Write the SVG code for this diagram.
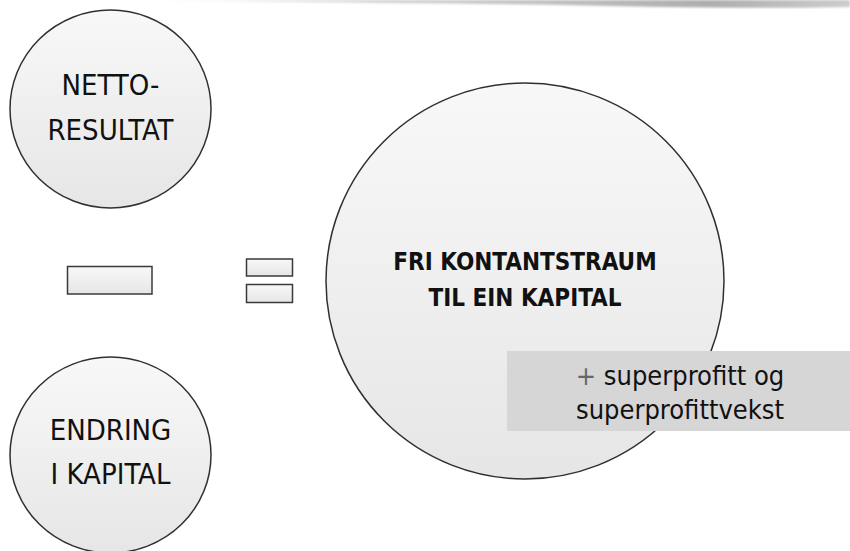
<svg xmlns="http://www.w3.org/2000/svg" width="850" height="551" viewBox="0 0 850 551">
  <style>
    .node { stroke: #303030; stroke-width: 1.5; fill: url(#g); }
    .lbl { font-family: "DejaVu Sans", "Liberation Sans", sans-serif; font-stretch: condensed; fill: #111; text-anchor: middle; }
    .big { font-size: 29px; }
    .bold { font-size: 24px; font-weight: bold; }
    .note { font-size: 27px; }
    .op { stroke: #3a3a3a; stroke-width: 1.5; fill: url(#g); }
  </style>
  <defs>
    <linearGradient id="g" x1="0" y1="0" x2="0" y2="1">
      <stop offset="0" stop-color="#f8f8f8"/>
      <stop offset="1" stop-color="#e6e6e6"/>
    </linearGradient>
    <linearGradient id="brush" x1="0" y1="0" x2="1" y2="0">
      <stop offset="0" stop-color="#bbb" stop-opacity="0"/>
      <stop offset="0.3" stop-color="#aaa" stop-opacity="0.5"/>
      <stop offset="0.8" stop-color="#999" stop-opacity="0.8"/>
      <stop offset="1" stop-color="#aaa" stop-opacity="0.6"/>
    </linearGradient>
    <filter id="blur"><feGaussianBlur stdDeviation="1.2"/></filter>
  </defs>
  <rect width="850" height="551" fill="#fff"/>
  <path d="M150,0 L850,0 L850,7 C760,9 650,7 560,5 C420,3 300,2 150,1 Z" fill="url(#brush)" filter="url(#blur)"/>

  <g id="netto">
    <ellipse class="node" cx="110.5" cy="109" rx="100.5" ry="99"/>
    <text class="lbl big" x="110.5" y="95">NETTO-</text>
    <text class="lbl big" x="110.5" y="140">RESULTAT</text>
  </g>

  <g id="endring">
    <ellipse class="node" cx="110.5" cy="455" rx="100.5" ry="98"/>
    <text class="lbl big" x="110.5" y="440">ENDRING</text>
    <text class="lbl big" x="110.5" y="484">I KAPITAL</text>
  </g>

  <g id="fri">
    <ellipse class="node" cx="525" cy="281" rx="199" ry="198"/>
    <text class="lbl bold" x="525" y="270">FRI KONTANTSTRAUM</text>
    <text class="lbl bold" x="525" y="306">TIL EIN KAPITAL</text>
  </g>

  <g id="connectors">
    <rect class="op" x="67.5" y="266.5" width="84.5" height="27.5"/>
    <rect class="op" x="246.5" y="259" width="46" height="17"/>
    <rect class="op" x="246.5" y="284.5" width="46" height="18"/>
  </g>

  <g id="superprofitt">
    <rect x="507" y="351" width="343" height="80" fill="#d6d6d6"/>
    <text class="lbl note" x="680" y="385"><tspan fill="#666">+</tspan> superprofitt og</text>
    <text class="lbl note" x="680" y="419">superprofittvekst</text>
  </g>
</svg>
